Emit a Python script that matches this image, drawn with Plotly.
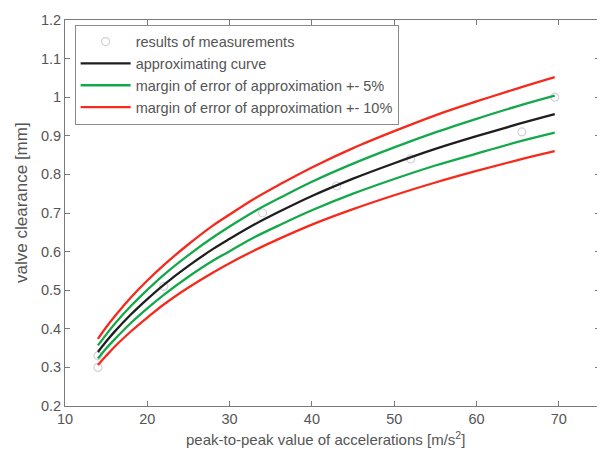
import plotly.graph_objects as go

# Data
x_curve = [14, 15, 16, 18, 20, 22, 25, 28, 30, 33, 36, 40, 45, 50, 55, 60, 65, 69.5]
approx = [0.340, 0.367, 0.392, 0.437, 0.477, 0.514, 0.563, 0.607, 0.633, 0.670, 0.703,
          0.744, 0.789, 0.829, 0.866, 0.899, 0.930, 0.956]
upper5 = [0.357, 0.385, 0.412, 0.459, 0.501, 0.540, 0.591, 0.637, 0.665, 0.704, 0.738,
          0.781, 0.828, 0.870, 0.909, 0.944, 0.977, 1.004]
lower5 = [0.323, 0.349, 0.372, 0.415, 0.453, 0.488, 0.535, 0.577, 0.601, 0.637, 0.668,
          0.707, 0.750, 0.788, 0.823, 0.854, 0.884, 0.908]
upper10 = [0.374, 0.404, 0.431, 0.481, 0.525, 0.565, 0.619, 0.668, 0.696, 0.737, 0.773,
           0.818, 0.868, 0.912, 0.953, 0.989, 1.023, 1.052]
lower10 = [0.306, 0.330, 0.353, 0.393, 0.429, 0.463, 0.507, 0.546, 0.570, 0.603, 0.633,
           0.670, 0.710, 0.746, 0.779, 0.809, 0.837, 0.860]

x_meas = [14, 14, 22, 34, 43, 52, 65.5, 69.5]
y_meas = [0.30, 0.33, 0.51, 0.70, 0.77, 0.84, 0.91, 1.00]

x_ticks = [10, 20, 30, 40, 50, 60, 70]
y_ticks = [0.2, 0.3, 0.4, 0.5, 0.6, 0.7, 0.8, 0.9, 1.0, 1.1, 1.2]
y_tick_text = ["0.2", "0.3", "0.4", "0.5", "0.6", "0.7", "0.8", "0.9", "1", "1.1", "1.2"]

BLACK = "#1e1e1e"
GREEN = "#14a84a"
RED = "#f52a1c"
TXT = "#555555"

fig = go.Figure()
fig.add_trace(go.Scatter(x=x_meas, y=y_meas, mode="markers", name="results of measurements",
                         marker=dict(symbol="circle-open", size=8, color="#d2d2de",
                                     line=dict(width=1.2, color="#d2d2de"))))
fig.add_trace(go.Scatter(x=x_curve, y=approx, mode="lines", name="approximating curve",
                         line=dict(color=BLACK, width=2.3, shape="spline")))
fig.add_trace(go.Scatter(x=x_curve, y=upper5, mode="lines",
                         name="margin of error of approximation +- 5%",
                         legendgroup="g5", line=dict(color=GREEN, width=2.3, shape="spline")))
fig.add_trace(go.Scatter(x=x_curve, y=upper10, mode="lines",
                         name="margin of error of approximation +- 10%",
                         legendgroup="g10", line=dict(color=RED, width=2.3, shape="spline")))
fig.add_trace(go.Scatter(x=x_curve, y=lower5, mode="lines", showlegend=False,
                         legendgroup="g5", line=dict(color=GREEN, width=2.3, shape="spline")))
fig.add_trace(go.Scatter(x=x_curve, y=lower10, mode="lines", showlegend=False,
                         legendgroup="g10", line=dict(color=RED, width=2.3, shape="spline")))

axis_common = dict(showgrid=False, zeroline=False, showline=True, linecolor="#7a7a7a",
                   linewidth=1, mirror="ticks", ticks="inside", ticklen=5,
                   tickcolor="#7a7a7a", tickfont=dict(size=14.5, color=TXT),
                   ticklabeloverflow="allow")

fig.update_xaxes(range=[10, 75], tickvals=x_ticks, **axis_common)
fig.update_yaxes(range=[0.2, 1.2], tickvals=y_ticks, ticktext=y_tick_text,
                 **axis_common)

fig.add_annotation(text="peak-to-peak value of accelerations [m/s<sup>2</sup>]",
                   showarrow=False, xref="paper", yref="paper", x=0.5, y=0,
                   xshift=-7, yshift=-32, xanchor="center", yanchor="middle",
                   font=dict(size=15, color=TXT))
fig.add_annotation(text="valve clearance [mm]", textangle=-90, showarrow=False,
                   xref="paper", yref="paper", x=0, y=0.526, xshift=-43,
                   xanchor="center", yanchor="middle",
                   font=dict(size=17, color=TXT))

fig.update_layout(
    width=597, height=444,
    margin=dict(l=57, r=4, t=8, b=46),
    paper_bgcolor="white", plot_bgcolor="white",
    font=dict(family="Liberation Sans, Arial, sans-serif", color=TXT),
    showlegend=True,
    legend=dict(x=0.018, y=0.988, xanchor="left", yanchor="top",
                bgcolor="white", bordercolor="#8a8a8a", borderwidth=1,
                font=dict(size=14.5, color=TXT), tracegroupgap=0,
                itemwidth=50),
)

fig.write_html("out.html")
